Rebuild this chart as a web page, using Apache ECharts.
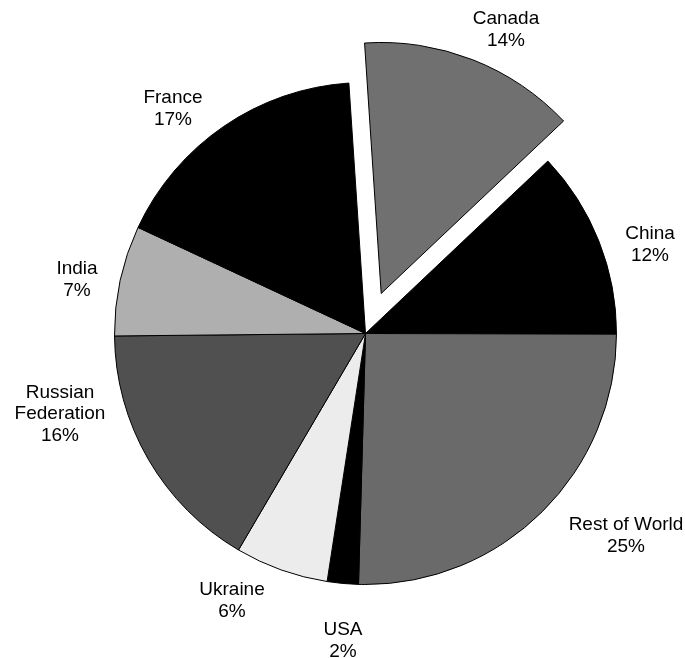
<!DOCTYPE html>
<html>
<head>
<meta charset="utf-8">
<script src="https://cdn.jsdelivr.net/npm/echarts@6/dist/echarts.min.js"></script>
<style>
  html, body { margin: 0; padding: 0; background: #ffffff; }
  #chart { width: 685px; height: 658px; }
</style>
</head>
<body>
<div id="chart"></div>
<script>
// Share of production by country (percent), clockwise from the top
const countries = ['Canada', 'China', 'Rest of World', 'USA', 'Ukraine', 'Russian Federation', 'India', 'France'];
const shares = [14.0, 12.1, 25.4, 2.0, 6.0, 16.4, 7.1, 17.0];

// Slice fills (greyscale print look)
const fills = ['#707070', '#000000', '#6a6a6a', '#000000', '#ececec', '#505050', '#afafaf', '#000000'];

// Label block centres placed around the pie
const labelSpots = [
  [507, 28.5], [650, 245], [626, 536], [343, 641],
  [232, 601], [60, 414], [77, 280], [173, 109]
];

const chart = echarts.init(document.getElementById('chart'), null, { renderer: 'canvas' });

const seriesData = countries.map((name, i) => {
  const item = {
    name: name,
    value: shares[i],
    itemStyle: { color: fills[i] },
    select: { itemStyle: { color: fills[i], borderColor: '#000', borderWidth: 1 } }
  };
  if (name === 'Canada') {
    // pulled-out slice; its label follows the slice's own outside placement
    item.selected = true;
    item.labelLine = { length: 32, length2: 16.5 };
  }
  return item;
});

chart.setOption({
  animation: false,
  backgroundColor: '#ffffff',
  series: [{
    type: 'pie',
    center: [365.5, 333.5],
    radius: 251,
    startAngle: 93.8,
    clockwise: true,
    selectedMode: 'single',
    selectedOffset: 43,
    avoidLabelOverlap: false,
    itemStyle: { borderColor: '#000000', borderWidth: 1 },
    emphasis: { disabled: true },
    label: {
      show: true,
      position: 'outside',
      color: '#000000',
      fontFamily: '"Liberation Sans", Arial, sans-serif',
      fontSize: 19,
      lineHeight: 21.5,
      formatter: p => {
        const name = p.name.length > 14 ? p.name.replace(' ', '\n') : p.name;
        return name + '\n' + Math.round(p.value) + '%';
      }
    },
    labelLine: { show: false },
    labelLayout: params => ({
      x: labelSpots[params.dataIndex][0],
      y: labelSpots[params.dataIndex][1],
      align: 'center',
      verticalAlign: 'middle'
    }),
    data: seriesData
  }]
});
</script>
</body>
</html>
